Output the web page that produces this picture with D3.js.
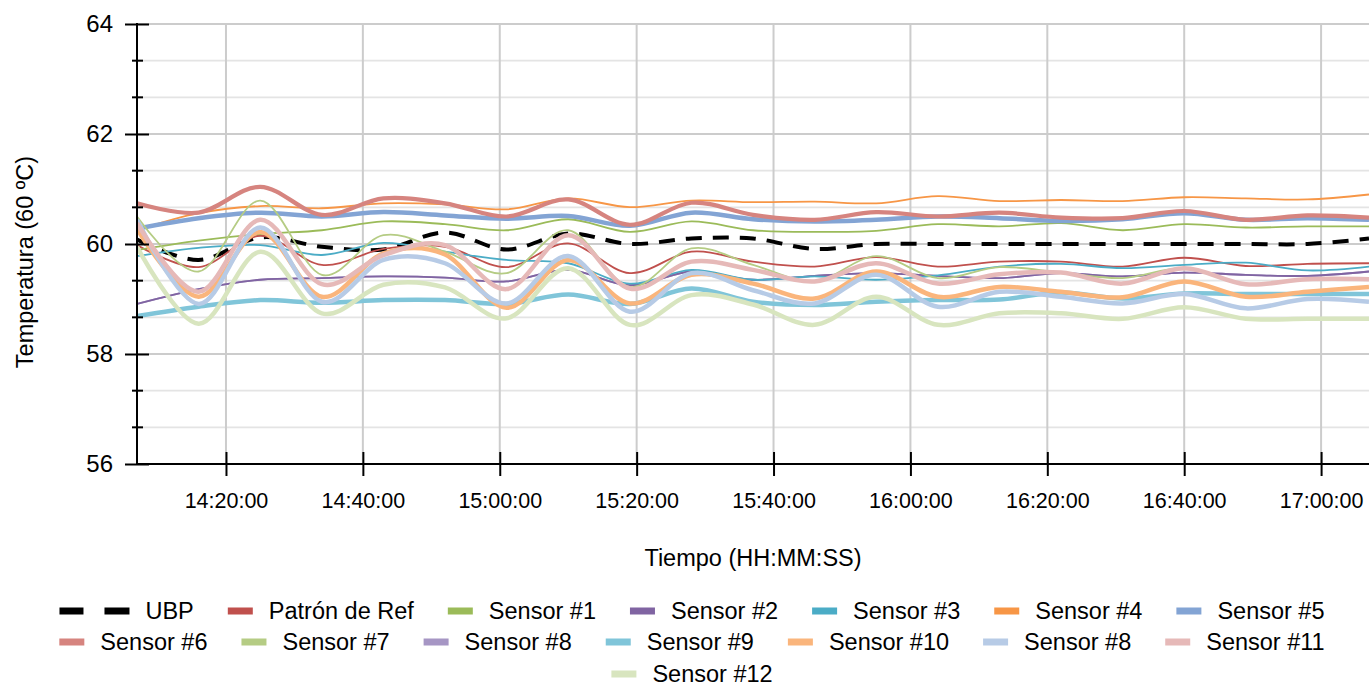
<!DOCTYPE html>
<html><head><meta charset="utf-8">
<script src="https://cdn.jsdelivr.net/npm/d3@7"></script>
<style>body{margin:0;background:#fff}svg{display:block;font-family:"Liberation Sans",Arial,sans-serif}</style>
</head><body><svg id="c" width="1372" height="686"></svg>
<script>
// ---------- DATA ----------
const times = ["14:07:00","14:16:00","14:25:00","14:34:00","14:43:00","14:52:00","15:01:00","15:10:00","15:19:00","15:28:00","15:37:00","15:46:00","15:55:00","16:04:00","16:13:00","16:22:00","16:31:00","16:40:00","16:49:00","16:58:00","17:07:00"];
const ubp     = [60.08,59.71,60.12,59.95,59.90,60.21,59.90,60.19,60.00,60.10,60.10,59.91,60.00,60.00,60.00,60.00,60.00,60.00,60.00,60.00,60.10];
const patron  = [59.98,59.58,60.15,59.62,59.91,59.95,59.58,60.01,59.47,59.86,59.68,59.59,59.76,59.59,59.68,59.68,59.59,59.75,59.60,59.64,59.65];
const sensor1 = [59.89,60.06,60.18,60.25,60.41,60.36,60.25,60.45,60.22,60.41,60.25,60.22,60.24,60.36,60.32,60.38,60.25,60.36,60.30,60.32,60.32];
const sensor2 = [58.91,59.18,59.35,59.38,59.41,59.39,59.32,59.53,59.25,59.50,59.35,59.42,59.47,59.42,59.38,59.47,59.41,59.48,59.44,59.42,59.50];
const sensor3 = [59.78,59.93,59.98,59.80,60.02,59.86,59.71,59.65,59.28,59.53,59.35,59.41,59.35,59.43,59.59,59.64,59.56,59.62,59.66,59.52,59.59];
const sensor4 = [60.25,60.56,60.69,60.65,60.74,60.72,60.63,60.83,60.67,60.79,60.76,60.77,60.74,60.87,60.78,60.80,60.78,60.85,60.83,60.81,60.90];
const sensor5 = [60.28,60.47,60.57,60.50,60.58,60.52,60.46,60.51,60.33,60.57,60.45,60.41,60.44,60.50,60.47,60.42,60.45,60.56,60.44,60.47,60.44];
const sensor6 = [60.74,60.57,61.04,60.53,60.83,60.74,60.50,60.81,60.35,60.75,60.53,60.44,60.58,60.50,60.57,60.48,60.47,60.60,60.44,60.52,60.48];
const sensor7 = [60.50,59.50,60.79,59.44,60.16,59.86,59.47,60.25,59.22,59.92,59.62,59.32,59.78,59.38,59.58,59.48,59.38,59.56,59.28,59.36,59.36];
const sensor8 = [58.91,59.18,59.35,59.38,59.41,59.39,59.32,59.53,59.25,59.50,59.35,59.42,59.47,59.42,59.38,59.47,59.41,59.48,59.44,59.42,59.50];
const sensor9 = [58.69,58.86,58.98,58.93,58.98,58.98,58.91,59.08,58.91,59.19,58.95,58.89,58.95,58.98,58.99,59.12,59.01,59.10,59.09,59.09,59.09];
const sensor10= [60.28,59.04,60.22,59.04,59.83,59.81,58.84,59.71,58.92,59.44,59.28,59.01,59.50,59.04,59.22,59.13,59.03,59.32,59.04,59.13,59.22];
const sensor8b= [60.44,58.91,60.30,58.95,59.71,59.65,58.92,59.78,58.77,59.47,59.16,58.92,59.44,58.86,59.13,59.04,58.92,59.09,58.83,59.00,58.95];
const sensor11= [60.38,59.13,60.44,59.27,59.80,59.98,59.18,60.16,59.19,59.68,59.53,59.32,59.65,59.28,59.45,59.48,59.28,59.56,59.27,59.36,59.36];
const sensor12= [59.95,58.55,59.86,58.74,59.26,59.21,58.65,59.56,58.53,59.07,58.90,58.53,59.04,58.53,58.74,58.74,58.64,58.85,58.64,58.64,58.64];
const seriesNames = ["UBP","Patrón de Ref","Sensor #1","Sensor #2","Sensor #3","Sensor #4","Sensor #5","Sensor #6","Sensor #7","Sensor #8","Sensor #9","Sensor #10","Sensor #8","Sensor #11","Sensor #12"];
const yTickLabels = [56,58,60,62,64];
const xDomain = ["14:07:00","17:07:00"];

// ---------- STYLE ----------
const seriesValues = [ubp,patron,sensor1,sensor2,sensor3,sensor4,sensor5,sensor6,sensor7,sensor8,sensor9,sensor10,sensor8b,sensor11,sensor12];
const colors = ["#000000","#C0504D","#9BBB59","#8064A2","#4BACC6","#F79646","#83A4D4","#D6847F","#B5CC84","#A696C4","#80C5D9","#FAB57C","#B7CBE6","#E6B9B8","#D8E5BF"];
const widths = [4,1.8,1.8,1.8,1.8,1.8,4.5,4.2,1.8,1.8,4.5,4.5,4.5,4.5,4.5];
const drawOrder = [9,0,1,2,3,4,5,6,7,8,10,11,12,13,14];

const svg = d3.select("#c");
const L=137,R=1369,T=24,B=464;
const parse = d3.timeParse("%H:%M:%S");
const x = d3.scaleTime().domain(xDomain.map(parse)).range([L,R]);
const y = d3.scaleLinear().domain([56,64]).range([B,T]);
const xTicks = x.ticks(d3.timeMinute.every(20));

// gridlines
const minor = d3.range(0,13).filter(k=>k%3!==0).map(k=>56+k*2/3);
svg.append("g").selectAll("line").data(minor).join("line")
  .attr("x1",L).attr("x2",R).attr("y1",d=>y(d)).attr("y2",d=>y(d))
  .attr("stroke","#e4e4e4").attr("stroke-width",1.7);
svg.append("g").selectAll("line").data(yTickLabels).join("line")
  .attr("x1",L).attr("x2",R).attr("y1",d=>y(d)).attr("y2",d=>y(d))
  .attr("stroke","#cccccc").attr("stroke-width",2);
svg.append("g").selectAll("line").data(xTicks).join("line")
  .attr("x1",d=>x(d)).attr("x2",d=>x(d)).attr("y1",T).attr("y2",B)
  .attr("stroke","#cccccc").attr("stroke-width",2);

// lines
svg.append("defs").append("clipPath").attr("id","clip").append("rect")
  .attr("x",L).attr("y",0).attr("width",R-L).attr("height",B);
const line = d3.line().x((d,i)=>x(parse(times[i]))).y(d=>y(d)).curve(d3.curveCardinal.tension(0));
const gl = svg.append("g").attr("clip-path","url(#clip)");
drawOrder.forEach(i=>{
  gl.append("path").attr("d",line(seriesValues[i])).attr("fill","none")
    .attr("stroke",colors[i]).attr("stroke-width",widths[i])
    .attr("stroke-linejoin","round")
    .attr("stroke-dasharray", i===0 ? "16,11" : null);
});

// axes
const xa = svg.append("g").attr("transform",`translate(0,${B})`)
  .call(d3.axisBottom(x).tickValues(xTicks).tickFormat(d3.timeFormat("%H:%M:%S")).tickSizeInner(12).tickSizeOuter(0).tickPadding(17));
xa.select(".domain").remove();
xa.selectAll(".tick line").attr("y1",-12).attr("y2",12).attr("stroke","#000").attr("stroke-width",2);
xa.selectAll(".tick text").attr("font-size",21.5).attr("font-family","Liberation Sans, Arial, sans-serif").attr("fill","#000");

const ya = svg.append("g").attr("transform",`translate(${L},0)`)
  .call(d3.axisLeft(y).tickValues(yTickLabels).tickFormat(d3.format("d")).tickSizeInner(12).tickSizeOuter(0).tickPadding(12));
ya.select(".domain").remove();
ya.selectAll(".tick line").attr("x1",12).attr("x2",-12).attr("stroke","#000").attr("stroke-width",2);
ya.selectAll(".tick text").attr("font-size",24).attr("font-family","Liberation Sans, Arial, sans-serif").attr("fill","#000");
svg.append("g").selectAll("line").data(minor).join("line")
  .attr("x1",L-5).attr("x2",L+6).attr("y1",d=>y(d)).attr("y2",d=>y(d))
  .attr("stroke","#000").attr("stroke-width",2);
svg.append("line").attr("x1",L).attr("x2",L).attr("y1",T-1).attr("y2",B+1).attr("stroke","#000").attr("stroke-width",2);
svg.append("line").attr("x1",L).attr("x2",R).attr("y1",B).attr("y2",B).attr("stroke","#000").attr("stroke-width",2);

// axis titles
svg.append("text").attr("x",(L+R)/2).attr("y",566).attr("text-anchor","middle")
  .attr("font-size",23.5).attr("fill","#000").text("Tiempo (HH:MM:SS)");
svg.append("text").attr("transform","translate(33,262) rotate(-90)").attr("text-anchor","middle")
  .attr("font-size",23.5).attr("fill","#000").text("Temperatura (60 ºC)");

// legend
const rows = [[0,1,2,3,4,5,6],[7,8,9,10,11,12,13],[14]];
const rowY = [611,642,674];
const lg = svg.append("g");
rows.forEach((row,r)=>{
  const items = row.map(i=>{
    const g = lg.append("g");
    const sw = i===0 ? 70 : 25;
    if(i===0){
      g.append("rect").attr("x",0).attr("y",-3.5).attr("width",24).attr("height",7).attr("fill",colors[i]);
      g.append("rect").attr("x",45).attr("y",-3.5).attr("width",25).attr("height",7).attr("fill",colors[i]);
    } else {
      g.append("rect").attr("x",0).attr("y",-3.5).attr("width",sw).attr("height",7).attr("fill",colors[i]);
    }
    const t = g.append("text").attr("x",sw+16).attr("y",8).attr("font-size",23.5).attr("fill","#000").text(seriesNames[i]);
    const tw = t.node().getComputedTextLength();
    return {g, w: sw+16+tw};
  });
  const pad = 34;
  const total = d3.sum(items,d=>d.w) + pad*(items.length-1);
  let cx = 692 - total/2;
  items.forEach(it=>{ it.g.attr("transform",`translate(${cx},${rowY[r]})`); cx += it.w + pad; });
});
</script></body></html>
